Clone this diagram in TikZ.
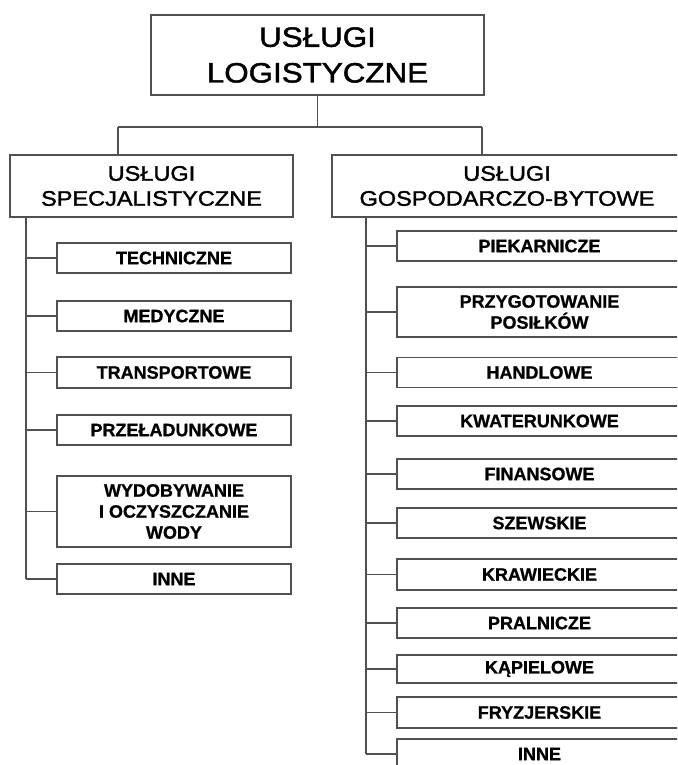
\documentclass[tikz,border=0pt]{standalone}
\usepackage{fontspec}
\setmainfont{Liberation Sans}
\newfontfamily\hdrfont[FakeStretch=1.12,FakeBold=1.6]{Liberation Sans}
\newfontfamily\itemfont[FakeBold=0.8]{Liberation Sans Bold}
\definecolor{lnc}{HTML}{505050}
\begin{document}
\begin{tikzpicture}[x=1pt,y=-1pt,
  box/.style={draw=lnc, line width=1.2pt, inner sep=0pt, align=center, fill=white},
  topbox/.style={box, minimum width=333pt, minimum height=80pt,
    font=\hdrfont\fontsize{28}{35.7}\selectfont},
  midbox/.style={box, minimum height=62pt,
    font=\hdrfont\fontsize{21}{25}\selectfont},
  lbox/.style={box, minimum width=234pt, minimum height=30pt,
    font=\itemfont\fontsize{18}{21}\selectfont},
  rbox/.style={box, minimum width=285pt, minimum height=30pt,
    font=\itemfont\fontsize{18}{21}\selectfont},
  conn/.style={draw=lnc, line width=1.2pt}]
\useasboundingbox (0,0) rectangle (677,765);
\clip (0,0) rectangle (677,765);
\fill[white] (0,0) rectangle (677,765);

\node[topbox] (top) at (317.5,55) {USŁUGI\\LOGISTYCZNE};
\node[midbox, minimum width=283pt] (ma) at (151.5,186) {USŁUGI\\SPECJALISTYCZNE};
\node[midbox, minimum width=350pt] (mb) at (507,186) {USŁUGI\\GOSPODARCZO-BYTOWE};

% left children
\node[lbox] (l1) at (174,258) {TECHNICZNE};
\node[lbox] (l2) at (174,316) {MEDYCZNE};
\node[lbox, minimum height=31pt] (l3) at (174,372.5) {TRANSPORTOWE};
\node[lbox] (l4) at (174,430) {PRZEŁADUNKOWE};
\node[lbox, minimum height=71pt] (l5) at (174,511.5) {WYDOBYWANIE\\I OCZYSZCZANIE\\WODY};
\node[lbox] (l6) at (174,579) {INNE};

% right children
\node[rbox] (r1) at (539.5,246) {PIEKARNICZE};
\node[rbox, minimum height=50pt] (r2) at (539.5,312) {PRZYGOTOWANIE\\POSIŁKÓW};
\node[rbox] (r3) at (539.5,372.5) {HANDLOWE};
\node[rbox] (r4) at (539.5,421) {KWATERUNKOWE};
\node[rbox] (r5) at (539.5,474) {FINANSOWE};
\node[rbox] (r6) at (539.5,523) {SZEWSKIE};
\node[rbox, minimum height=31pt] (r7) at (539.5,574.5) {KRAWIECKIE};
\node[rbox] (r8) at (539.5,623) {PRALNICZE};
\node[rbox, minimum height=28pt] (r9) at (539.5,669) {KĄPIELOWE};
\node[rbox, minimum height=31pt] (r10) at (539.5,712.5) {FRYZJERSKIE};
\node[rbox] (r11) at (539.5,754) {INNE};

% top connectors
\coordinate (busL) at (118,127);
\coordinate (busR) at (482,127);
\draw[conn] (top.south) -- (top.south |- busL);
\draw[conn] (busL) -- (busR);
\draw[conn] (busL) -- (busL |- ma.north);
\draw[conn] (busR) -- (busR |- mb.north);

% trunks
\coordinate (tl) at (26,0);
\coordinate (tr) at (366,0);
\draw[conn] (tl |- ma.south) -- (tl |- l6.west);
\draw[conn] (tr |- mb.south) -- (tr |- r11.west);
\foreach \n in {l1,l2,l3,l4,l5,l6}
  \draw[conn] (tl |- \n.west) -- (\n.west);
\foreach \n in {r1,r2,r3,r4,r5,r6,r7,r8,r9,r10,r11}
  \draw[conn] (tr |- \n.west) -- (\n.west);
\end{tikzpicture}
\end{document}
